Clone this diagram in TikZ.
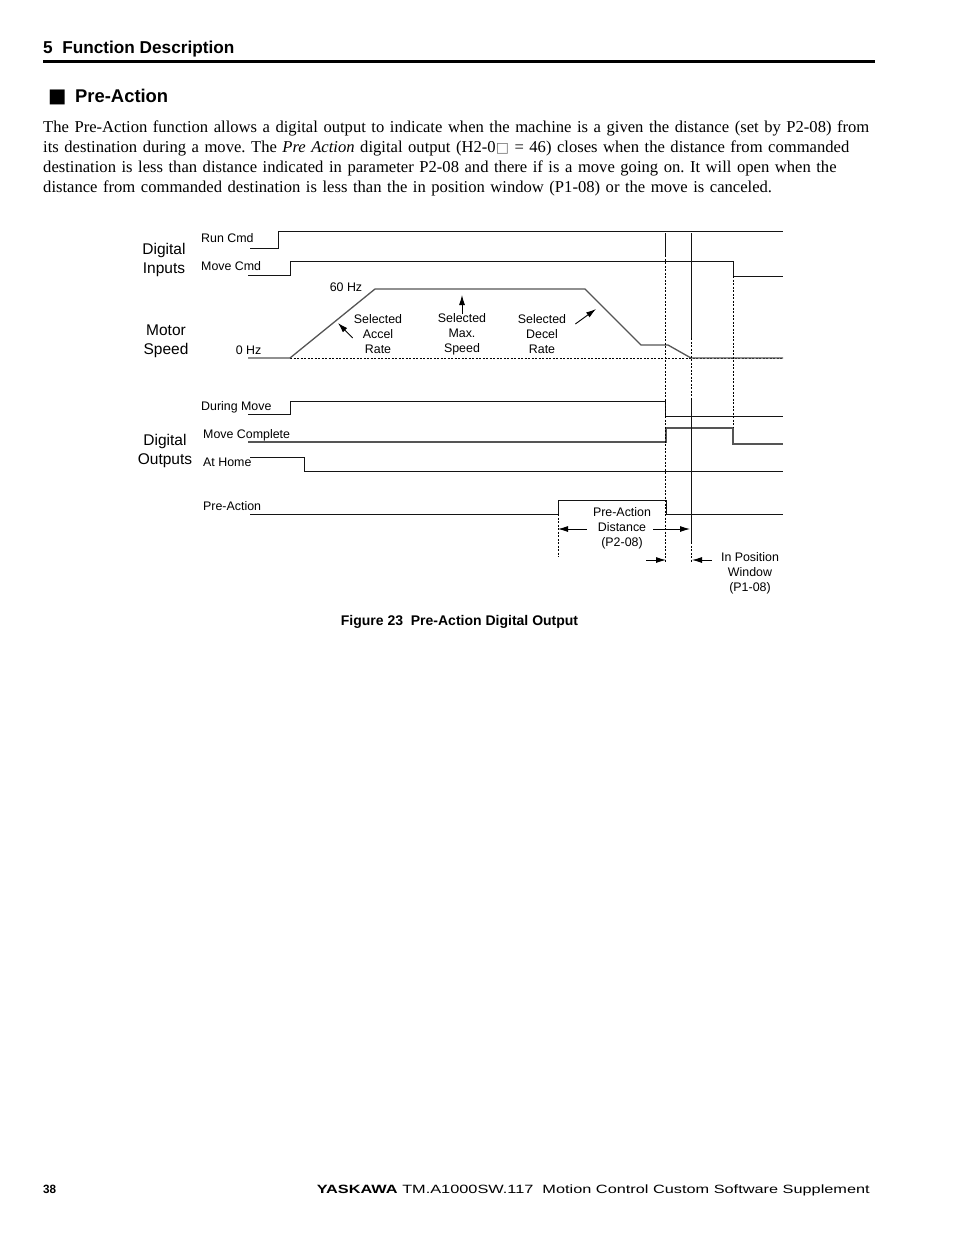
\documentclass[tikz,border=0pt]{standalone}
\usepackage{fontspec}
\usepackage{graphicx}
\setmainfont{Liberation Serif}
\setsansfont{Liberation Sans}
\newfontfamily\symfont{DejaVu Sans}
\usetikzlibrary{arrows.meta,positioning}
\definecolor{traceblack}{RGB}{20,20,20}
\definecolor{tracegray}{RGB}{85,85,85}

\begin{document}
\begin{tikzpicture}[x=1pt, y=-1pt,
  sig/.style={line width=1pt, color=traceblack},
  siggray/.style={line width=1.3pt, color=tracegray},
  guide/.style={dash pattern=on 2pt off 1.5pt, line width=0.8pt},
  lbl/.style={font=\fontsize{12.4}{14}\sffamily, anchor=base west, inner sep=0pt},
  grp/.style={font=\fontsize{15.5}{18.8}\sffamily, align=center, inner sep=0pt},
  note/.style={font=\fontsize{12.4}{15}\sffamily, align=center, inner sep=0pt},
  dim/.style={-{Latex[length=10pt,width=6pt]}, line width=0.9pt}]
\useasboundingbox[fill=white] (0,0) rectangle (954,1235);

% page header and section title
\node[anchor=base west, inner sep=0pt, font=\fontsize{17.2}{20}\sffamily\bfseries] (chap) at (43,53) {5\ \ Function Description};
\draw[line width=3pt] (43,61) -- (875,61);
\node[anchor=base west, inner sep=0pt, font=\fontsize{19.5}{22}\symfont] (bullet) at (48,102.5) {■};
\node[anchor=base west, inner sep=0pt, font=\fontsize{18.4}{22}\sffamily\bfseries] (head) at (75,102) {Pre-Action};
\node[anchor=base west, inner sep=0pt, text width=870pt,
      font=\fontsize{16.6}{20.3}\selectfont] (para) at (43,132)
  {\raggedright\frenchspacing\hyphenpenalty=10000
   The Pre-Action function allows a digital output to indicate when the machine is a given the distance (set by P2-08) from\\
   its destination during a move. The \textit{Pre Action} digital output (H2-0{\symfont\fontsize{14}{14}\selectfont\color{black!55}□} = 46) closes when the distance from commanded\\
   destination is less than distance indicated in parameter P2-08 and there if is a move going on. It will open when the\\
   distance from commanded destination is less than the in position window (P1-08) or the move is canceled.};

% group labels
\node[grp] (din) at (164,260) {Digital\\Inputs};
\node[grp] (mspd) at (166,341) {Motor\\Speed};
\node[grp] (dout) at (165,451) {Digital\\Outputs};

% digital inputs
\node[lbl] (runlbl) at (201,242.5) {Run Cmd};
\node[lbl] (movlbl) at (201,270.5) {Move Cmd};
\draw[sig] (250,248) -- (278,248) -- (278,231) -- (783,231);
\draw[sig] (248,275) -- (290,275) -- (290,261) -- (733,261) -- (733,276) -- (783,276);

% motor speed
\node[note] (hz60) at (346,287.5) {60 Hz};
\node[note] (hz0) at (248.5,350.5) {0 Hz};
\draw[guide] (290,358) -- (783,358);
\draw[siggray] (248,358) -- (290,358) -- (375,289) -- (585,289) -- (641,345) -- (668,345) -- (691,358) -- (783,358);
\node[note] (accel) at (378,334) {Selected\\Accel\\Rate};
\node[note] (maxsp) at (462,334) {Selected\\Max.\\Speed};
\node[note] (decel) at (542,334) {Selected\\Decel\\Rate};
\coordinate (accelhd) at (338,323);
\coordinate (maxhd) at (462,295);
\coordinate (decelhd) at (596,309);
\draw[dim] ([shift={(-1,4)}]accel.west) -- (accelhd);
\draw[dim] ([yshift=-1]maxsp.north) -- (maxhd);
\draw[dim] ([shift={(9,-10)}]decel.east) -- (decelhd);

% digital outputs
\node[lbl] (durlbl) at (201,410.5) {During Move};
\node[lbl] (cmplbl) at (203,438.5) {Move Complete};
\node[lbl] (homlbl) at (203,466.5) {At Home};
\node[lbl] (prelbl) at (203,510.5) {Pre-Action};
\draw[sig] (248,414) -- (290,414) -- (290,401) -- (665,401) -- (665,416) -- (783,416);
\draw[siggray] (248,442) -- (666,442) -- (666,428) -- (733,428) -- (733,444) -- (783,444);
\draw[sig] (250,457) -- (304,457) -- (304,471) -- (783,471);
\draw[sig] (250,514) -- (558,514) -- (558,500) -- (666,500) -- (666,514) -- (783,514);

% timing guides
\draw[sig] (665,233) -- (665,255);
\draw[guide] (665,255) -- (665,563);
\draw[sig] (691,233) -- (691,338);
\draw[guide] (691,338) -- (691,400);
\draw[sig] (691,400) -- (691,542);
\draw[guide] (691,542) -- (691,563);
\draw[guide] (733,276) -- (733,428);
\draw[guide] (558,514) -- (558,557);

% distances
\node[note] (padist) at (622,528) {Pre-Action\\Distance\\(P2-08)};
\coordinate (padl) at (558,529);
\coordinate (padr) at (690,529);
\draw[dim] ([shift={(-6,1)}]padist.west) -- (padl);
\draw[dim] ([shift={(2,1)}]padist.east) -- (padr);
\node[note] (ipwin) at (750,573) {In Position\\Window\\(P1-08)};
\coordinate (ipl) at (692,560);
\coordinate (ipsrc) at (646,560);
\coordinate (ipr) at (666,560);
\draw[dim] ([shift={(-9,-13)}]ipwin.west) -- (ipl);
\draw[dim] (ipsrc) -- (ipr);

\node[font=\fontsize{14}{16}\sffamily\bfseries, inner sep=0pt] (cap) at (459.5,621.5) {Figure 23\ \ Pre-Action Digital Output};

% page footer
\node[anchor=base west, inner sep=0pt, font=\fontsize{12}{14}\sffamily\bfseries] (pgno) at (43,1193.5) {\resizebox{13pt}{\height}{38}};
\node[anchor=base east, inner sep=0pt, font=\fontsize{12}{14}\sffamily] (foot) at (870,1193.5)
  {\resizebox{553pt}{\height}{\textbf{YASKAWA} TM.A1000SW.117\ \ Motion Control Custom Software Supplement}};
\end{tikzpicture}
\end{document}
